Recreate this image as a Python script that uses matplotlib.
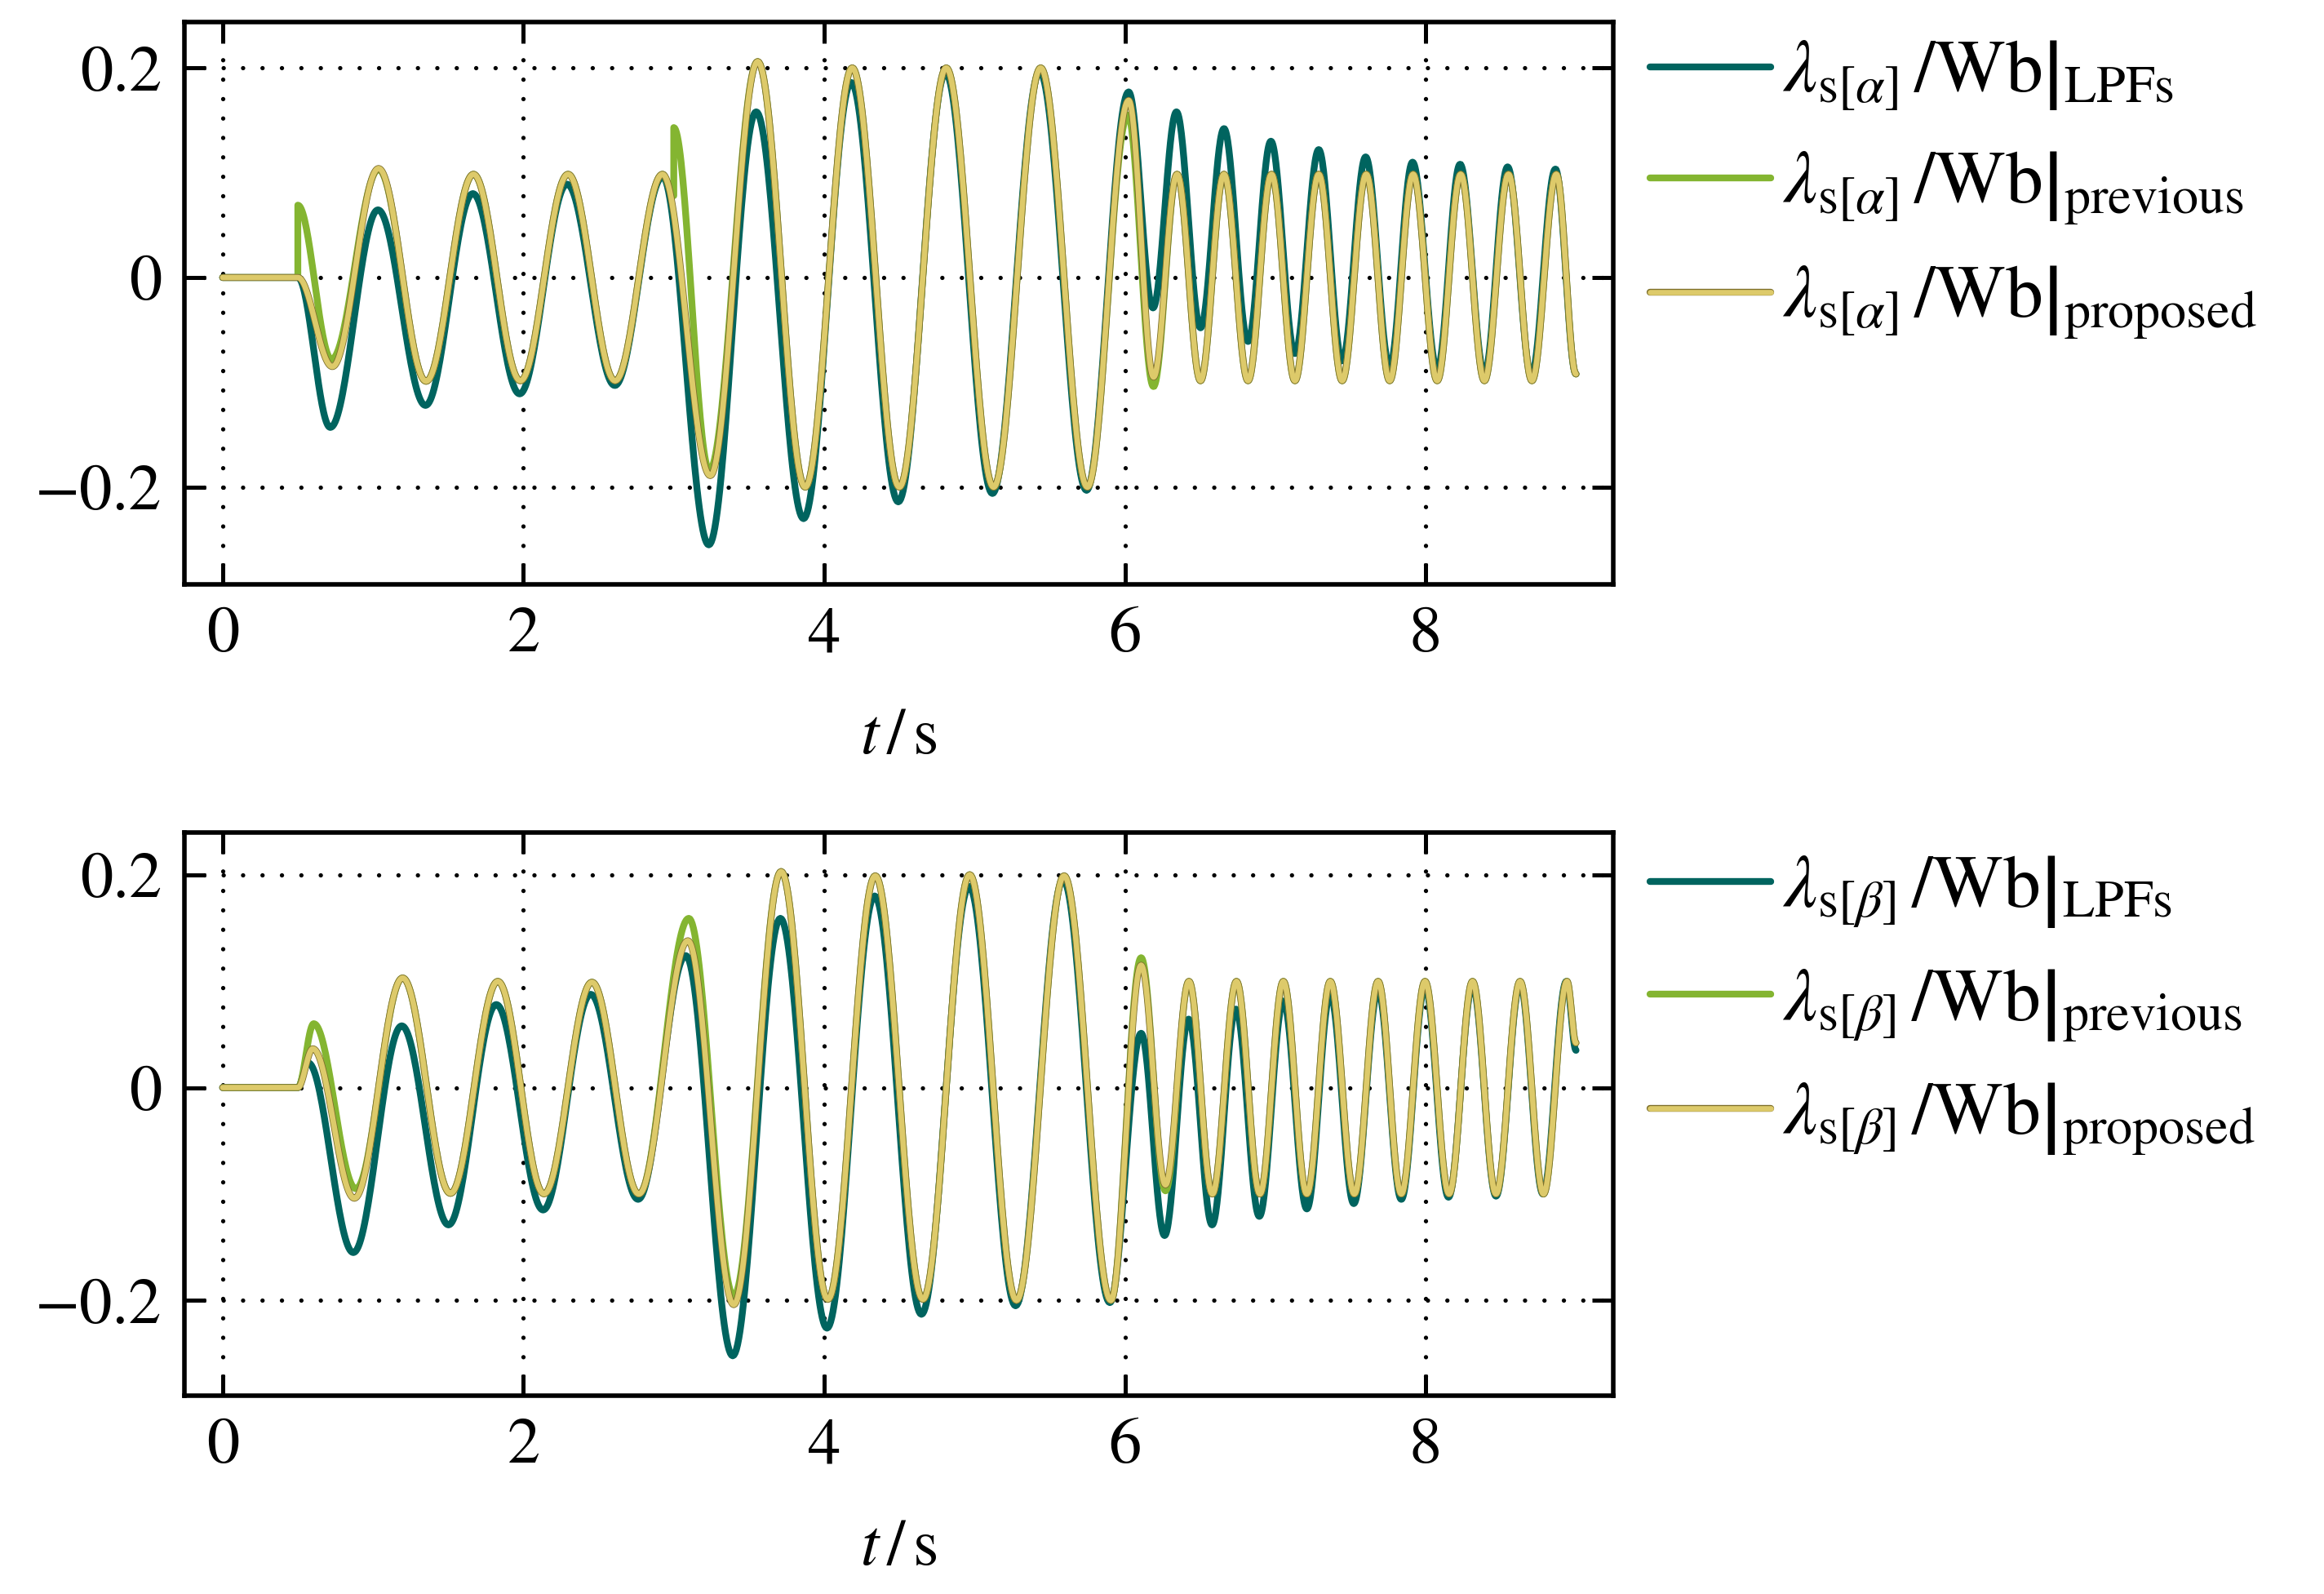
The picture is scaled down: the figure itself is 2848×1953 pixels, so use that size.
import numpy as np
import matplotlib
matplotlib.use("Agg")
import matplotlib.pyplot as plt
import matplotlib.patheffects as pe

# extrema of each trace (time in s, flux in Wb)
lpf_a_t = [0, 0.5, 0.716, 1.033, 1.349, 1.664, 1.975, 2.29, 2.608, 2.926, 3.233, 3.548, 3.863,
           4.18, 4.493, 4.808, 5.119, 5.434, 5.745, 6.025, 6.187, 6.343, 6.503, 6.659, 6.819,
           6.971, 7.131, 7.289, 7.445, 7.601, 7.761, 7.913, 8.077, 8.229, 8.391, 8.545, 8.703,
           8.863, 9.0]
lpf_a_v = [0, 0, -0.143, 0.0645, -0.122, 0.080, -0.111, 0.089, -0.103, 0.096, -0.255, 0.158,
           -0.230, 0.186, -0.214, 0.195, -0.206, 0.196, -0.203, 0.177, -0.029, 0.158, -0.048,
           0.142, -0.061, 0.130, -0.0725, 0.122, -0.0795, 0.115, -0.0847, 0.110, -0.088, 0.108,
           -0.0916, 0.1055, -0.093, 0.1034, -0.092]

prev_a_t = [0, 0.5, 0.5, 0.724, 1.037, 1.353, 1.668, 1.98, 2.297, 2.61, 2.925, 3.0, 3.0, 3.237,
            3.558, 3.874, 4.187, 4.50, 4.812, 5.127, 5.44, 5.751, 6.02, 6.19, 6.347, 6.503,
            6.659, 6.819, 6.975, 7.131, 7.289, 7.445, 7.605, 7.761, 7.917, 8.077, 8.233, 8.391,
            8.551, 8.707, 8.869, 9.0]
prev_a_v = [0, 0, 0.069, -0.078, 0.103, -0.099, 0.0985, -0.0985, 0.0985, -0.0985, 0.0985, 0.078,
            0.143, -0.184, 0.206, -0.2, 0.2, -0.2, 0.2, -0.2, 0.2, -0.2, 0.155, -0.104, 0.0985,
            -0.0985, 0.0985, -0.0985, 0.0985, -0.0985, 0.0985, -0.0985, 0.0985, -0.0985, 0.0985,
            -0.0985, 0.0985, -0.0985, 0.0985, -0.0985, 0.0985, -0.092]

prop_a_t = [0, 0.5, 0.73, 1.037, 1.353, 1.668, 1.98, 2.297, 2.61, 2.925, 3.243, 3.558, 3.874,
            4.187, 4.50, 4.812, 5.127, 5.44, 5.751, 6.025, 6.191, 6.347, 6.503, 6.659, 6.819,
            6.975, 7.131, 7.289, 7.445, 7.605, 7.761, 7.917, 8.077, 8.233, 8.391, 8.551, 8.707,
            8.869, 9.0]
prop_a_v = [0, 0, -0.085, 0.104, -0.099, 0.0985, -0.0985, 0.0985, -0.0985, 0.0985, -0.189, 0.206,
            -0.2, 0.2, -0.2, 0.2, -0.2, 0.2, -0.2, 0.169, -0.095, 0.0985, -0.0985, 0.0985,
            -0.0985, 0.0985, -0.0985, 0.0985, -0.0985, 0.0985, -0.0985, 0.0985, -0.0985, 0.0985,
            -0.0985, 0.0985, -0.0985, 0.0985, -0.092]

lpf_b_t = [0, 0.5, 0.568, 0.869, 1.191, 1.502, 1.82, 2.131, 2.448, 2.763, 3.08, 3.392, 3.709,
           4.019, 4.336, 4.647, 4.964, 5.273, 5.59, 5.9, 6.108, 6.264, 6.424, 6.58, 6.738, 6.894,
           7.054, 7.21, 7.366, 7.522, 7.684, 7.838, 7.996, 8.152, 8.312, 8.468, 8.628, 8.78,
           8.936, 9.0]
lpf_b_v = [0, 0, 0.0233, -0.155, 0.058, -0.129, 0.078, -0.115, 0.0876, -0.105, 0.124, -0.252,
           0.159, -0.226, 0.180, -0.213, 0.189, -0.205, 0.195, -0.202, 0.051, -0.139, 0.0643,
           -0.129, 0.0737, -0.121, 0.0813, -0.114, 0.0876, -0.109, 0.091, -0.105, 0.0945, -0.103,
           0.0956, -0.102, 0.097, -0.1, 0.0998, 0.035]

prev_b_t = [0, 0.5, 0.606, 0.886, 1.197, 1.515, 1.83, 2.137, 2.456, 2.768, 3.1, 3.399, 3.714,
            4.025, 4.34, 4.657, 4.968, 5.279, 5.596, 5.907, 6.108, 6.27, 6.426, 6.582, 6.742,
            6.898, 7.054, 7.21, 7.366, 7.526, 7.684, 7.838, 7.996, 8.156, 8.312, 8.468, 8.628,
            8.784, 8.94, 9.0]
prev_b_v = [0, 0, 0.06, -0.095, 0.103, -0.0994, 0.0998, -0.0998, 0.099, -0.1, 0.159, -0.196,
            0.203, -0.199, 0.199, -0.199, 0.2, -0.2, 0.199, -0.2, 0.122, -0.097, 0.0998, -0.1,
            0.0998, -0.1, 0.0998, -0.1, 0.0998, -0.1, 0.0998, -0.1, 0.0998, -0.1, 0.0998, -0.1,
            0.0998, -0.1, 0.0998, 0.042]

prop_b_t = [0, 0.5, 0.6, 0.876, 1.197, 1.515, 1.83, 2.137, 2.456, 2.768, 3.094, 3.399, 3.714,
            4.025, 4.34, 4.657, 4.968, 5.279, 5.596, 5.907, 6.108, 6.27, 6.426, 6.582, 6.742,
            6.898, 7.054, 7.21, 7.366, 7.526, 7.684, 7.838, 7.996, 8.156, 8.312, 8.468, 8.628,
            8.784, 8.94, 9.0]
prop_b_v = [0, 0, 0.0365, -0.104, 0.103, -0.0994, 0.0998, -0.0998, 0.099, -0.1, 0.138, -0.204,
            0.203, -0.199, 0.199, -0.199, 0.2, -0.2, 0.199, -0.2, 0.115, -0.0914, 0.0998, -0.1,
            0.0998, -0.1, 0.0998, -0.1, 0.0998, -0.1, 0.0998, -0.1, 0.0998, -0.1, 0.0998, -0.1,
            0.0998, -0.1, 0.0998, 0.042]

x_ticks = [0, 2, 4, 6, 8]
y_ticks = [-0.2, 0, 0.2]
y_tick_labels = ['\u22120.2', '0', '0.2']
sources = ['LPFs', 'previous', 'proposed']
colors = ['#00645f', '#84b531', '#ddca6a']

plt.rcParams['font.family'] = 'STIXGeneral'
plt.rcParams['mathtext.fontset'] = 'stix'
plt.rcParams['font.size'] = 29


def half_cos(tk, vk, n=40):
    # sinusoid-like arc between consecutive extrema
    ts, vs = [], []
    for i in range(len(tk) - 1):
        s = np.linspace(0, 1, n)
        w = (1 - np.cos(np.pi * s)) / 2
        ts.append(tk[i] + (tk[i + 1] - tk[i]) * s)
        vs.append(vk[i] + (vk[i + 1] - vk[i]) * w)
    return np.concatenate(ts), np.concatenate(vs)


def style_axes(ax, ylim):
    ax.set_xlim(-0.255, 9.245)
    ax.set_ylim(*ylim)
    ax.set_xticks(x_ticks)
    ax.set_xticklabels([str(v) for v in x_ticks])
    ax.set_yticks(y_ticks)
    ax.set_yticklabels(y_tick_labels)
    ax.tick_params(direction='in', top=True, right=True, length=9.5, width=1.8, pad=10)
    for s in ax.spines.values():
        s.set_linewidth(2.0)
    ax.grid(True, color='black', linewidth=1.9, linestyle=(0, (0.01, 4.5)),
            dash_capstyle='round')
    ax.set_xlabel(r'$t\,/\,\mathrm{s}$', labelpad=19)


def draw(ax, series, sub, leg_y):
    for (tk, vk), src, c in zip(series, sources, colors):
        t, v = half_cos(tk, vk)
        lab = r'$\left.\lambda_{\mathrm{s}[\%s]}\,/\mathrm{Wb}\right|_{\mathrm{%s}}$' % (sub, src)
        effects = [pe.Stroke(linewidth=3.0, foreground='#7d6f2c' if src == 'proposed' else c),
                   pe.Normal()]
        ax.plot(t, v, color=c, linewidth=2.4, label=lab, path_effects=effects,
                solid_capstyle='round')
    ax.legend(loc='upper left', bbox_to_anchor=(1.0258, leg_y), frameon=False, fontsize=33,
              handlelength=1.62, handletextpad=0.15, labelspacing=0.5, borderaxespad=0,
              borderpad=0)


def main():
    fig = plt.figure(figsize=(14.24, 9.765), dpi=200)
    ax1 = fig.add_axes([0.0793, 0.6336, 0.6147, 0.3524])
    ax2 = fig.add_axes([0.0793, 0.1246, 0.6147, 0.3531])

    draw(ax1, [(lpf_a_t, lpf_a_v), (prev_a_t, prev_a_v), (prop_a_t, prop_a_v)], 'alpha', 0.97)
    style_axes(ax1, (-0.2924, 0.2434))

    draw(ax2, [(lpf_b_t, lpf_b_v), (prev_b_t, prev_b_v), (prop_b_t, prop_b_v)], 'beta', 0.962)
    style_axes(ax2, (-0.2892, 0.2396))

    fig.savefig('out.png', dpi=200)


if __name__ == "__main__":
    main()
